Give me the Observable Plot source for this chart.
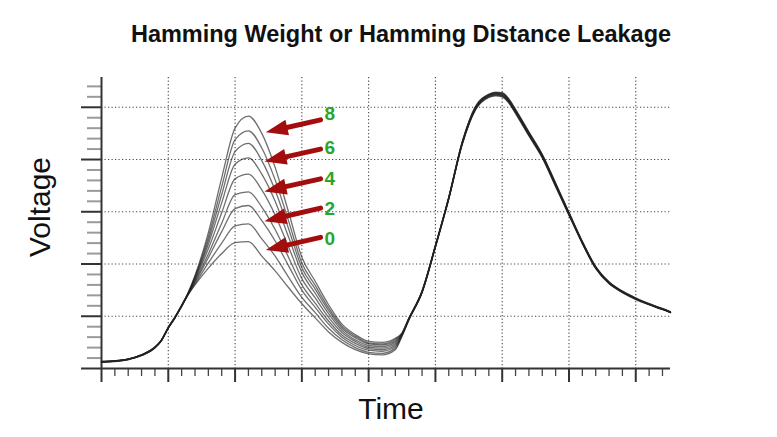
<!DOCTYPE html>
<html>
<head>
<meta charset="utf-8">
<script src="https://cdn.jsdelivr.net/npm/d3@7"></script>
<script src="https://cdn.jsdelivr.net/npm/@observablehq/plot@0.6"></script>
<style>
  html, body { margin: 0; padding: 0; background: #fff; }
  #chart { width: 777px; height: 437px; }
  svg { font-family: "Liberation Sans", Arial, Helvetica, sans-serif; }
</style>
</head>
<body>
<div id="chart"></div>
<script>
// ---- data ----
const title = "Hamming Weight or Hamming Distance Leakage";
const xLabel = "Time";
const yLabel = "Voltage";

const time = [0, 0.2, 0.4, 0.6, 0.8, 0.9, 1.0, 1.1, 1.2, 1.3, 1.4, 1.6, 1.8, 2.0, 2.2, 2.4, 2.6, 2.8, 3.0, 3.2, 3.4, 3.6, 3.8, 4.0, 4.2, 4.4, 4.5,
  4.6, 4.8, 5.0, 5.2, 5.4, 5.6, 5.8, 5.9, 6.0, 6.1, 6.2, 6.4, 6.6, 6.8, 7.0, 7.2, 7.4, 7.6, 7.8, 8.0, 8.2, 8.4, 8.52];

const hw0 = [0.13, 0.14, 0.18, 0.26, 0.40, 0.54, 0.77, 0.97, 1.19,
  1.42, 1.60, 1.92, 2.20, 2.41, 2.43, 2.15, 1.87, 1.55, 1.24, 0.97, 0.70, 0.50, 0.36, 0.28, 0.26, 0.36, 0.62,
  0.92, 1.45, 2.32, 3.24, 4.28, 4.95, 5.19, 5.22, 5.20, 5.09, 4.89, 4.46, 4.04, 3.49, 2.94, 2.40, 1.92, 1.63, 1.46, 1.33, 1.22, 1.13, 1.07];
const hw1 = [0.12, 0.14, 0.17, 0.25, 0.40, 0.55, 0.78, 0.97, 1.19,
  1.42, 1.62, 2.02, 2.40, 2.73, 2.77, 2.48, 2.15, 1.75, 1.36, 1.07, 0.77, 0.55, 0.40, 0.31, 0.29, 0.39, 0.63,
  0.93, 1.46, 2.33, 3.25, 4.29, 4.96, 5.20, 5.23, 5.21, 5.08, 4.88, 4.45, 4.03, 3.48, 2.93, 2.39, 1.91, 1.62, 1.45, 1.32, 1.22, 1.13, 1.07];
const hw2 = [0.13, 0.15, 0.18, 0.26, 0.41, 0.55, 0.78, 0.98, 1.20,
  1.43, 1.65, 2.12, 2.62, 3.06, 3.12, 2.83, 2.44, 1.97, 1.50, 1.17, 0.85, 0.60, 0.44, 0.35, 0.33, 0.42, 0.64,
  0.93, 1.47, 2.34, 3.26, 4.30, 4.97, 5.21, 5.24, 5.22, 5.10, 4.90, 4.47, 4.05, 3.50, 2.95, 2.40, 1.92, 1.63, 1.46, 1.33, 1.22, 1.13, 1.07];
const hw3 = [0.12, 0.14, 0.18, 0.25, 0.39, 0.54, 0.77, 0.97, 1.19,
  1.43, 1.67, 2.19, 2.78, 3.33, 3.38, 3.09, 2.66, 2.13, 1.60, 1.25, 0.91, 0.64, 0.48, 0.38, 0.36, 0.45, 0.65,
  0.94, 1.47, 2.34, 3.26, 4.31, 4.98, 5.22, 5.25, 5.23, 5.11, 4.91, 4.48, 4.06, 3.51, 2.96, 2.41, 1.93, 1.64, 1.46, 1.33, 1.23, 1.13, 1.08];
const hw4 = [0.13, 0.14, 0.17, 0.26, 0.40, 0.54, 0.78, 0.98, 1.20,
  1.44, 1.70, 2.29, 2.98, 3.63, 3.72, 3.42, 2.94, 2.33, 1.72, 1.35, 0.98, 0.69, 0.52, 0.41, 0.39, 0.48, 0.66,
  0.94, 1.46, 2.33, 3.25, 4.30, 4.98, 5.23, 5.26, 5.24, 5.12, 4.92, 4.49, 4.07, 3.52, 2.96, 2.41, 1.93, 1.64, 1.47, 1.34, 1.23, 1.14, 1.08];
const hw5 = [0.14, 0.15, 0.18, 0.26, 0.41, 0.55, 0.79, 0.98, 1.20,
  1.44, 1.72, 2.38, 3.17, 3.91, 4.03, 3.72, 3.20, 2.52, 1.84, 1.44, 1.05, 0.73, 0.55, 0.44, 0.42, 0.51, 0.66,
  0.94, 1.47, 2.34, 3.27, 4.31, 4.99, 5.23, 5.27, 5.25, 5.13, 4.93, 4.50, 4.08, 3.53, 2.97, 2.42, 1.94, 1.64, 1.47, 1.34, 1.23, 1.14, 1.08];
const hw6 = [0.13, 0.14, 0.18, 0.25, 0.40, 0.54, 0.78, 0.97, 1.20,
  1.45, 1.74, 2.45, 3.33, 4.15, 4.31, 3.98, 3.41, 2.68, 1.93, 1.52, 1.11, 0.77, 0.59, 0.47, 0.45, 0.53, 0.67,
  0.95, 1.48, 2.35, 3.27, 4.32, 5.00, 5.24, 5.27, 5.26, 5.14, 4.94, 4.51, 4.08, 3.53, 2.97, 2.42, 1.94, 1.65, 1.47, 1.34, 1.23, 1.14, 1.08];
const hw7 = [0.12, 0.13, 0.17, 0.25, 0.40, 0.55, 0.78, 0.98, 1.21,
  1.45, 1.76, 2.52, 3.48, 4.38, 4.55, 4.22, 3.61, 2.83, 2.02, 1.59, 1.16, 0.81, 0.62, 0.49, 0.47, 0.56, 0.67,
  0.95, 1.48, 2.35, 3.28, 4.33, 5.01, 5.25, 5.28, 5.27, 5.15, 4.95, 4.52, 4.09, 3.54, 2.98, 2.43, 1.95, 1.65, 1.48, 1.35, 1.24, 1.14, 1.08];
const hw8 = [0.13, 0.15, 0.18, 0.26, 0.41, 0.55, 0.79, 0.99, 1.21,
  1.46, 1.78, 2.60, 3.65, 4.60, 4.83, 4.50, 3.85, 3.00, 2.13, 1.67, 1.22, 0.85, 0.65, 0.52, 0.50, 0.58, 0.68,
  0.96, 1.49, 2.36, 3.28, 4.33, 5.02, 5.25, 5.29, 5.28, 5.16, 4.96, 4.53, 4.10, 3.55, 2.99, 2.43, 1.95, 1.66, 1.48, 1.35, 1.24, 1.15, 1.09];
const series = [hw0, hw1, hw2, hw3, hw4, hw5, hw6, hw7, hw8];

// annotations: labels and arrows
const annLabels = ["8", "6", "4", "2", "0"];
const annLabelX = [3.42, 3.42, 3.42, 3.42, 3.42];
const annLabelY = [4.87, 4.23, 3.63, 3.05, 2.48];
const arrowTailX = [3.28, 3.28, 3.28, 3.28, 3.28];
const arrowTailY = [4.76, 4.20, 3.63, 3.07, 2.51];
const arrowTipX = [2.46, 2.44, 2.44, 2.44, 2.46];
const arrowTipY = [4.52, 3.96, 3.39, 2.82, 2.27];

// axis ticks
const xMajor = [0, 1, 2, 3, 4, 5, 6, 7, 8];
const yMajor = [0, 1, 2, 3, 4, 5];
const xMinor = d3.range(0, 43).filter(i => i % 5 !== 0).map(i => i / 5);
const yMinor = d3.range(0, 28).filter(i => i % 5 !== 0).map(i => i / 5);

// ---- layout ----
const W = 777, H = 437, ML = 101, MR = 107, MT = 77, MB = 69;
const X0 = 0, X1 = 8.52, Y0 = 0, Y1 = 5.57;

const rows = [];
series.forEach((s, k) => s.forEach((v, i) => rows.push({t: time[i], v, k})));

const kx = (W - ML - MR) / (X1 - X0);
const ky = (H - MT - MB) / (Y1 - Y0);
const arrows = annLabels.map((lab, i) => {
  const ang = Math.atan2(-(arrowTipY[i] - arrowTailY[i]) * ky, (arrowTipX[i] - arrowTailX[i]) * kx) * 180 / Math.PI;
  return {x1: arrowTailX[i], y1: arrowTailY[i], x2: arrowTipX[i], y2: arrowTipY[i], rot: ang + 90};
});
const labels = annLabels.map((lab, i) => ({x: annLabelX[i], y: annLabelY[i], text: lab}));

const headSymbol = {
  draw(context) {
    context.moveTo(0, 0);
    context.lineTo(-8, 22);
    context.lineTo(8, 22);
    context.closePath();
  }
};

const red = "#a30d0d";
const green = "#2ba52b";

const chart = Plot.plot({
  width: W, height: H,
  marginLeft: ML, marginRight: MR, marginTop: MT, marginBottom: MB,
  x: {domain: [X0, X1], axis: null},
  y: {domain: [Y0, Y1], axis: null},
  marks: [
    Plot.gridX(xMajor.slice(1), {stroke: "#333", strokeOpacity: 0.9, strokeWidth: 1.1, strokeDasharray: "1.2,2.3"}),
    Plot.gridY(yMajor.slice(1), {stroke: "#333", strokeOpacity: 0.9, strokeWidth: 1.1, strokeDasharray: "1.2,2.3"}),
    Plot.axisY(yMinor, {anchor: "left", tickSize: 14, tickFormat: () => "", label: null, stroke: "#9a9a9a", strokeWidth: 2}),
    Plot.axisY(yMajor, {anchor: "left", tickSize: 20, tickFormat: () => "", label: null, stroke: "#333", strokeWidth: 2}),
    Plot.axisX(xMinor, {anchor: "bottom", tickSize: 8, tickFormat: () => "", label: null, stroke: "#444", strokeWidth: 1.3}),
    Plot.axisX(xMajor, {anchor: "bottom", tickSize: 14, tickFormat: () => "", label: null, stroke: "#333", strokeWidth: 2}),
    Plot.ruleX([0], {stroke: "#333", strokeWidth: 2}),
    Plot.ruleY([0], {stroke: "#333", strokeWidth: 2}),
    Plot.line(rows, {x: "t", y: "v", z: "k", curve: "monotone-x", stroke: "#222", strokeWidth: 1.3, strokeOpacity: 0.65}),
    Plot.arrow(arrows, {x1: "x1", y1: "y1", x2: "x2", y2: "y2", insetEnd: 16, headLength: 0, stroke: red, strokeWidth: 5}),
    Plot.dot(arrows, {x: "x2", y: "y2", symbol: headSymbol, rotate: "rot", fill: red, stroke: "none"}),
    Plot.text(labels, {x: "x", y: "y", text: "text", fill: green, fontWeight: "bold", fontSize: 19}),
    Plot.text([title], {frameAnchor: "top", dx: 15, dy: -52, fontSize: 23.5, fontWeight: "bold", fill: "#111"}),
    Plot.text([yLabel], {frameAnchor: "left", textAnchor: "middle", rotate: -90, dx: -61, dy: -16, fontSize: 30, fill: "#111"}),
    Plot.text([xLabel], {frameAnchor: "bottom", dx: 5, dy: 50, fontSize: 30, fill: "#111"})
  ]
});
document.getElementById("chart").appendChild(chart);
</script>
</body>
</html>
